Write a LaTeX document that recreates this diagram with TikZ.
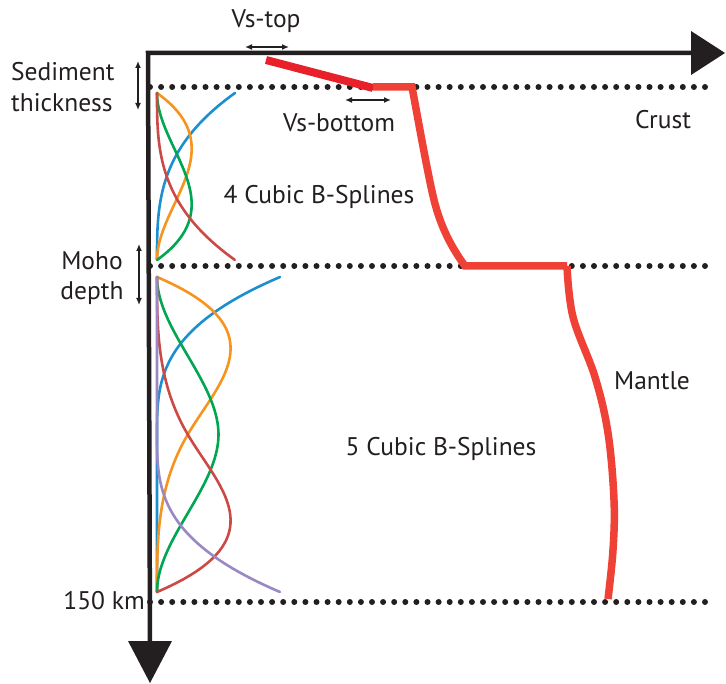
\documentclass[tikz,border=0pt]{standalone}
\usepackage{fontspec}
\setmainfont{PT Sans}
\usetikzlibrary{arrows.meta}
\definecolor{ink}{HTML}{231F20}
\definecolor{prof}{HTML}{EF4136}
\definecolor{profdark}{HTML}{E8202A}
\definecolor{sblue}{HTML}{1C8FD0}
\definecolor{sorange}{HTML}{F7941D}
\definecolor{sgreen}{HTML}{00A651}
\definecolor{sred}{HTML}{CC4A45}
\definecolor{spurple}{HTML}{9A88C4}
\tikzset{
  lbl/.style={font=\fontsize{25.5}{28}\selectfont, text=ink, inner sep=0pt},
  axisline/.style={line width=4.5pt, draw=ink},
  headfill/.style={fill=ink, draw=none},
  dotline/.style={line width=6pt, draw=ink, line cap=round, dash pattern=on 0pt off 11.1pt},
  dbl/.style={line width=1.4pt, draw=ink, {Latex[length=7pt,width=6pt]}-{Latex[length=7pt,width=6pt]}},
  spl/.style={line width=2.6pt, line cap=round},
  profile/.style={line width=7.5pt, draw=prof, line join=miter}
}
\begin{document}
\begin{tikzpicture}[x=1pt,y=-1pt]
\path[use as bounding box] (0,0) rectangle (726,684);

% dotted interface lines
\coordinate (sedL) at (150,87);  \coordinate (sedR) at (705,87);
\coordinate (mohoL) at (150,266); \coordinate (mohoR) at (705,266);
\coordinate (botL) at (150,602); \coordinate (botR) at (705,602);
\draw[dotline] (sedL) -- (sedR);
\draw[dotline] (mohoL) -- (mohoR);
\draw[dotline] (botL) -- (botR);

% B-splines, crust (4 cubic Bernstein)
\begin{scope}[spl]
\draw[sblue]   plot[domain=0:1,samples=60] ({157+78*(1-\x)^3},{93+167*\x});
\draw[sorange] plot[domain=0:1,samples=60] ({157+78*3*\x*(1-\x)^2},{93+167*\x});
\draw[sgreen]  plot[domain=0:1,samples=60] ({157+78*3*\x^2*(1-\x)},{93+167*\x});
\draw[sred]    plot[domain=0:1,samples=60] ({157+78*\x^3},{93+167*\x});
% mantle (5 cubic B-splines, one interior knot)
\draw[sblue]   plot[domain=0:0.5,samples=40] ({157+123*(1-2*\x)^3},{277+315*\x}) -- (157,592);
\draw[sorange] plot[domain=0:0.5,samples=40] ({157+123*(3*(2*\x)-4.5*(2*\x)^2+1.75*(2*\x)^3)},{277+315*\x})
               -- plot[domain=0.5:1,samples=40] ({157+123*(2-2*\x)^3/4},{277+315*\x});
\draw[sgreen]  plot[domain=0:0.5,samples=40] ({157+123*(1.5*(2*\x)^2-(2*\x)^3)},{277+315*\x})
               -- plot[domain=0.5:1,samples=40] ({157+123*(1.5*(2-2*\x)^2-(2-2*\x)^3)},{277+315*\x});
\draw[sred]    plot[domain=0:0.5,samples=40] ({157+123*(2*\x)^3/4},{277+315*\x})
               -- plot[domain=0.5:1,samples=40] ({157+123*(3*(2-2*\x)-4.5*(2-2*\x)^2+1.75*(2-2*\x)^3)},{277+315*\x});
\draw[spurple] (157,277) -- plot[domain=0.5:1,samples=40] ({157+123*(2*\x-1)^3},{277+315*\x});
\end{scope}

% velocity profile
\draw[line width=8pt, draw=profdark] (266,60) -- (373,88);
\draw[profile] (373,87) -- (412,87)
  .. controls (420,130) and (428,175) .. (434,200)
  .. controls (441,228) and (452,248) .. (465,266)
  -- (567,266)
  plot[smooth, tension=0.6] coordinates {(567,266) (573,317) (595,377) (608,433) (614,500) (613,550) (608,599)};

% axes
\coordinate (orig) at (150,53);
\coordinate (xend) at (692,53);
\coordinate (yend) at (150,642);
\draw[axisline] (xend) -- (148,53) -- (yend);
\fill[headfill] (691,31) -- (725,53) -- (691,75) -- cycle;
\fill[headfill] (128,641) -- (150,683) -- (172,641) -- cycle;

% labels
\node[lbl] (vstop) at (266,21) {Vs-top};
\node[lbl] (vsbot) at (339,123) {Vs-bottom};
\node[lbl, anchor=west] (sed1) at (11,72) {Sediment};
\node[lbl, anchor=west] (sed2) at (11,103) {thickness};
\node[lbl] (crust) at (663,120) {Crust};
\node[lbl] (four) at (319,197) {4 Cubic B-Splines};
\node[lbl] (moho1) at (92,261) {Moho};
\node[lbl] (moho2) at (92,293) {depth};
\node[lbl] (mantle) at (652,381) {Mantle};
\node[lbl] (five) at (441,449) {5 Cubic B-Splines};
\node[lbl, anchor=east] (km) at (145,601) {150 km};

% double arrows
\coordinate (a1) at (245,47); \coordinate (a2) at (289,47);
\draw[dbl] (a1) -- (a2);
\coordinate (b1) at (345,100); \coordinate (b2) at (391,100);
\draw[dbl] (b1) -- (b2);
\coordinate (c1) at (138,61); \coordinate (c2) at (138,110);
\draw[dbl] (c1) -- (c2);
\coordinate (d1) at (139,244); \coordinate (d2) at (139,305);
\draw[dbl] (d1) -- (d2);
\end{tikzpicture}
\end{document}
